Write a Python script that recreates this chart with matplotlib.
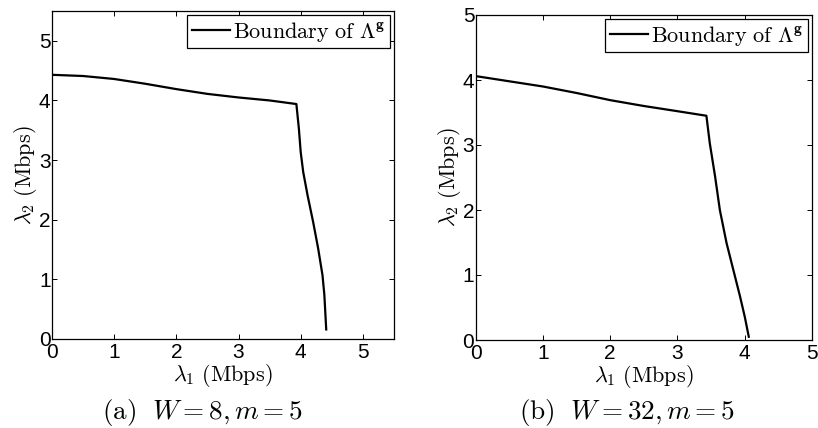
import matplotlib
matplotlib.use("Agg")
import matplotlib.pyplot as plt

plt.rcParams["mathtext.fontset"] = "cm"
plt.rcParams["font.family"] = ["Liberation Sans", "DejaVu Sans"]

# Boundary of the achievable rate region, W = 8, m = 5
lam1_a = [0.0, 0.5, 1.0, 1.5, 2.0, 2.5, 3.0, 3.5, 3.93,
          3.97, 4.00, 4.04, 4.11, 4.20, 4.28, 4.35, 4.38, 4.41]
lam2_a = [4.43, 4.41, 4.36, 4.28, 4.19, 4.11, 4.05, 4.00, 3.94,
          3.53, 3.13, 2.80, 2.41, 1.96, 1.52, 1.07, 0.74, 0.16]

# Boundary of the achievable rate region, W = 32, m = 5
lam1_b = [0.0, 0.5, 1.0, 1.5, 2.0, 2.5, 3.0, 3.43,
          3.48, 3.56, 3.63, 3.73, 3.83, 3.93, 4.00, 4.06]
lam2_b = [4.06, 3.98, 3.90, 3.80, 3.69, 3.60, 3.52, 3.45,
          3.03, 2.51, 2.00, 1.49, 1.08, 0.67, 0.36, 0.05]

ticks = [0, 1, 2, 3, 4, 5]
legend_label = r"$\mathrm{Boundary\ of}\ \Lambda^{\mathbf{g}}$"
xlabel = r"$\lambda_1\ \mathrm{(Mbps)}$"
ylabel = r"$\lambda_2\ \mathrm{(Mbps)}$"
captions = [r"$\mathrm{(a)}\ \ W=8, m=5$", r"$\mathrm{(b)}\ \ W=32, m=5$"]

fig = plt.figure(figsize=(8.18, 4.28), dpi=100)
ax_a = fig.add_axes([52 / 818, 89 / 428, 342 / 818, 328 / 428])
ax_b = fig.add_axes([475.7 / 818, 88 / 428, 336.3 / 818, 325 / 428])

panels = [
    (ax_a, lam1_a, lam2_a, 5.5, 202 / 818),
    (ax_b, lam1_b, lam2_b, 5.0, 627 / 818),
]

for (ax, xs, ys, lim, cx), cap in zip(panels, captions):
    ax.plot(xs, ys, color="black", linewidth=1.6, label=legend_label)
    ax.set_xlim(0, lim)
    ax.set_ylim(0, lim)
    ax.set_xticks(ticks)
    ax.set_yticks(ticks)
    ax.tick_params(direction="in", length=3.6, width=0.7, top=True, right=True,
                   labelsize=15, pad=1)
    ax.tick_params(axis="x", pad=3)
    for s in ax.spines.values():
        s.set_linewidth(0.9)
    ax.set_xlabel(xlabel, fontsize=16, labelpad=0)
    ax.set_ylabel(ylabel, fontsize=16, labelpad=0)
    leg = ax.legend(loc="upper right", fontsize=16, handlelength=1.7,
                    handletextpad=0.15, borderpad=0.2, borderaxespad=0.2,
                    fancybox=False, framealpha=1)
    leg.get_frame().set_edgecolor("black")
    leg.get_frame().set_linewidth(0.9)
    fig.text(cx, 1 - 413 / 428, cap, ha="center", va="center", fontsize=19.5)

fig.savefig("out.png", dpi=100)
